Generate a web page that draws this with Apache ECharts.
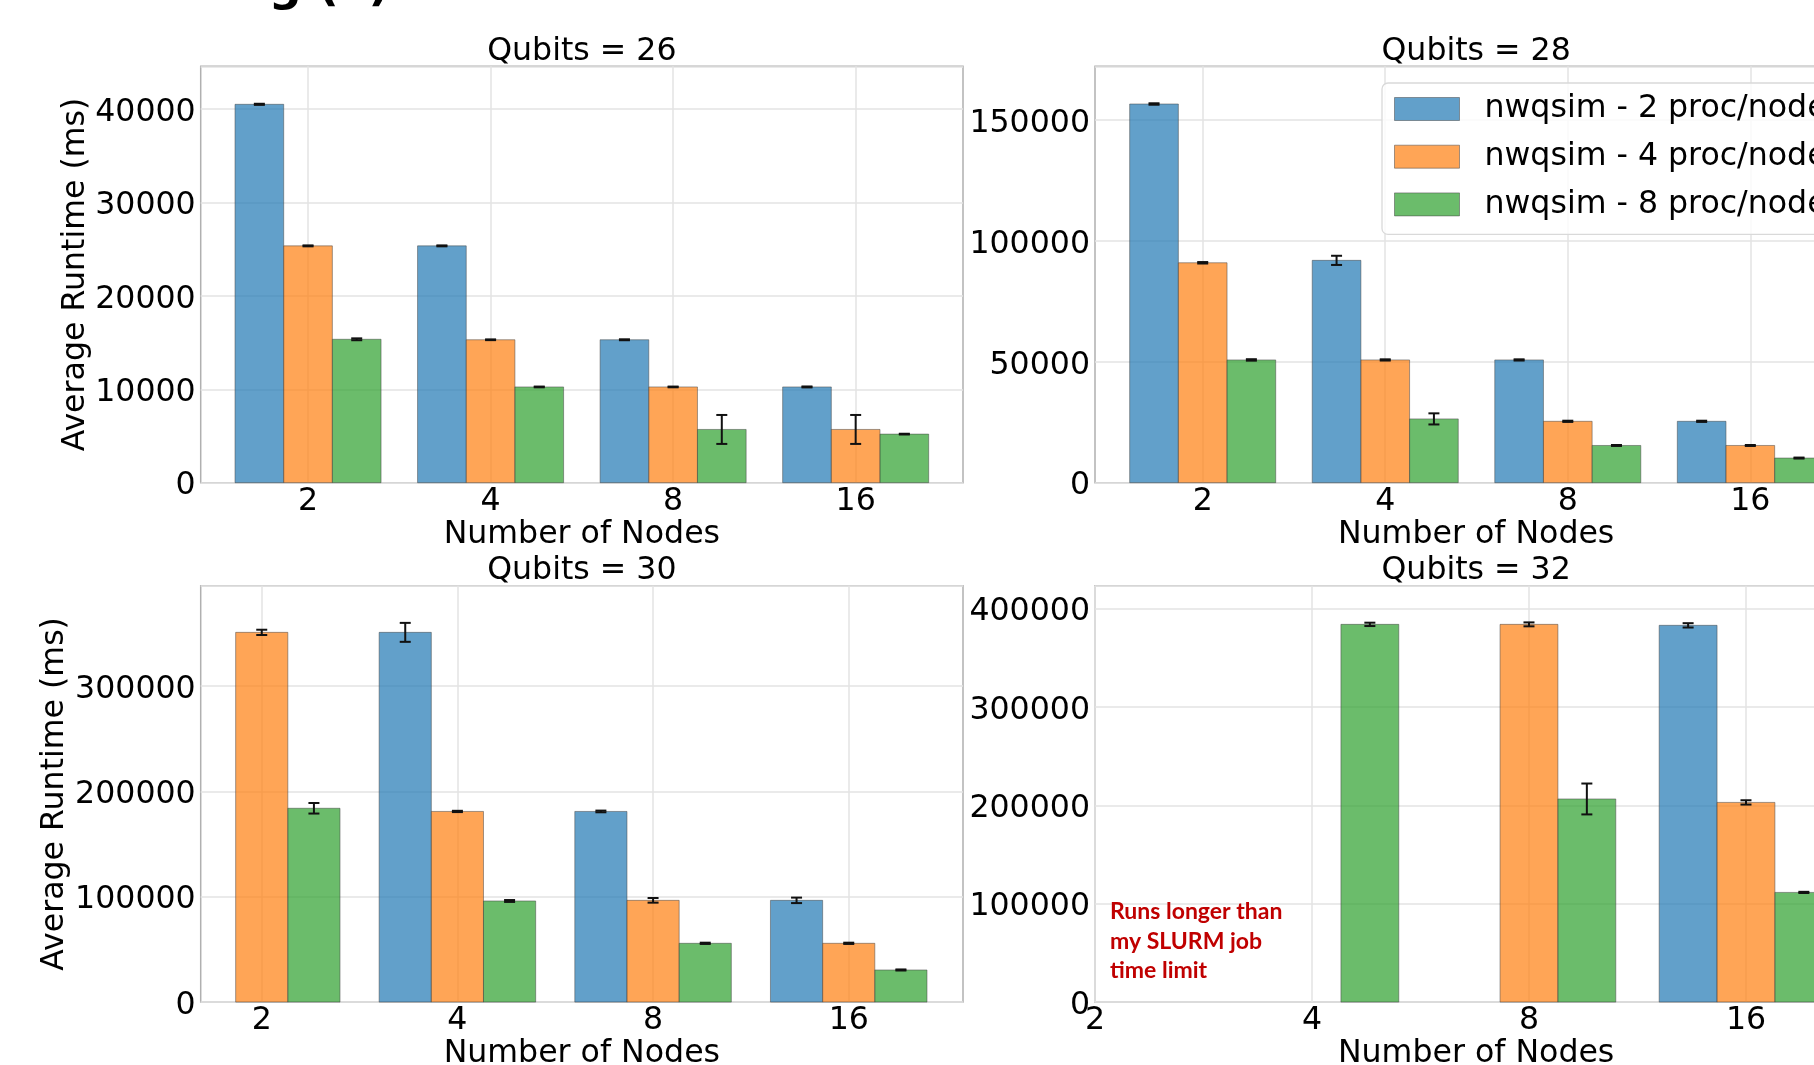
<!DOCTYPE html>
<html><head><meta charset="utf-8">
<script src="https://cdn.jsdelivr.net/npm/echarts@6/dist/echarts.min.js"></script>
<style>html,body{margin:0;padding:0;overflow:hidden;background:#fff;}#c{width:1860px;height:1065px;}</style>
</head><body><div id="c"></div>
<script>
// ---------- data ----------
const nodeLabels = ['2', '4', '8', '16'];
const seriesNames = ['nwqsim - 2 proc/node', 'nwqsim - 4 proc/node', 'nwqsim - 8 proc/node'];
const panelTitles = ['Qubits = 26', 'Qubits = 28', 'Qubits = 30', 'Qubits = 32'];

// Qubits = 26
const q26_p2 = [40500, 25350, 15300, 10250];
const q26_p2_err = [60, 50, 50, 50];
const q26_p4 = [25350, 15300, 10250, 5700];
const q26_p4_err = [50, 40, 40, 1550];
const q26_p8 = [15350, 10250, 5700, 5200];
const q26_p8_err = [100, 40, 1550, 40];
const q26_yticks = [0, 10000, 20000, 30000, 40000];

// Qubits = 28
const q28_p2 = [156700, 92000, 50800, 25400];
const q28_p2_err = [300, 1900, 250, 250];
const q28_p4 = [91000, 50800, 25400, 15400];
const q28_p4_err = [300, 250, 250, 200];
const q28_p8 = [50800, 26400, 15400, 10200];
const q28_p8_err = [300, 2300, 200, 200];
const q28_yticks = [0, 50000, 100000, 150000];

// Qubits = 30
const q30_p2 = [null, 351000, 181000, 96600];
const q30_p2_err = [null, 9000, 800, 2600];
const q30_p4 = [351000, 181000, 96600, 55800];
const q30_p4_err = [2500, 600, 2200, 600];
const q30_p8 = [184000, 96000, 55800, 30500];
const q30_p8_err = [5000, 900, 600, 500];
const q30_yticks = [0, 100000, 200000, 300000];

// Qubits = 32
const q32_p2 = [null, null, null, 383000];
const q32_p2_err = [null, null, null, 2200];
const q32_p4 = [null, null, 384000, 203000];
const q32_p4_err = [null, null, 2000, 2200];
const q32_p8 = [null, 384000, 206500, 111500];
const q32_p8_err = [null, 1700, 15700, 600];
const q32_yticks = [0, 100000, 200000, 300000, 400000];

const noteText = ['Runs longer than', 'my SLURM job', 'time limit'];

// ---------- layout / style ----------
const FONT = 'DejaVu Sans';
const FS = 31.6;
const GW = 762.3, GH = 416.4;
const BW = 0.8 / 3;
const offsets = [-BW, 0, BW];
const fills = ['rgba(31,119,180,0.7)', 'rgba(255,127,14,0.7)', 'rgba(44,160,44,0.7)'];
const edge = 'rgba(70,70,70,0.5)';

const panels = [
  {left: 200.7, top: 66.3, xMin: -0.588, xMax: 3.588, yMax: 44570, yticks: q26_yticks,
   vals: [q26_p2, q26_p4, q26_p8], errs: [q26_p2_err, q26_p4_err, q26_p8_err], yName: true, yGap: 106},
  {left: 1095, top: 66.3, xMin: -0.59, xMax: 3.586, yMax: 172300, yticks: q28_yticks,
   vals: [q28_p2, q28_p4, q28_p8], errs: [q28_p2_err, q28_p4_err, q28_p8_err], yName: false},
  {left: 200.7, top: 585.7, xMin: -0.312, xMax: 3.584, yMax: 395300, yticks: q30_yticks,
   vals: [q30_p2, q30_p4, q30_p8], errs: [q30_p2_err, q30_p4_err, q30_p8_err], yName: true, yGap: 128},
  {left: 1095, top: 585.7, xMin: 0, xMax: 3.513, yMax: 423300, yticks: q32_yticks,
   vals: [q32_p2, q32_p4, q32_p8], errs: [q32_p2_err, q32_p4_err, q32_p8_err], yName: false}
];

function render(offset, fill) {
  return function (params, api) {
    const g = api.value(0), v = api.value(1), e = api.value(2);
    const tl = api.coord([g + offset - BW / 2, v]);
    const br = api.coord([g + offset + BW / 2, 0]);
    const children = [{
      type: 'rect',
      shape: {x: tl[0], y: tl[1], width: br[0] - tl[0], height: br[1] - tl[1]},
      style: {fill: fill, stroke: edge, lineWidth: 1}
    }];
    if (e > 0) {
      const cx = api.coord([g + offset, v])[0];
      const yHi = api.coord([g + offset, v + e])[1];
      const yLo = api.coord([g + offset, v - e])[1];
      const s = {stroke: '#111', lineWidth: 2};
      children.push({type: 'line', shape: {x1: cx, y1: yHi, x2: cx, y2: yLo}, style: s});
      children.push({type: 'line', shape: {x1: cx - 5.5, y1: yHi, x2: cx + 5.5, y2: yHi}, style: s});
      children.push({type: 'line', shape: {x1: cx - 5.5, y1: yLo, x2: cx + 5.5, y2: yLo}, style: s});
    }
    return {type: 'group', children: children};
  };
}

const grids = [], xAxes = [], yAxes = [], series = [], titles = [];
panels.forEach((p, pi) => {
  grids.push({left: p.left, top: p.top, width: GW, height: GH, show: true,
    borderColor: '#b0b0b0', borderWidth: 1.5, backgroundColor: 'transparent',
    containLabel: false, outerBoundsMode: 'none'});
  xAxes.push({
    type: 'value', gridIndex: pi, min: p.xMin, max: p.xMax,
    name: 'Number of Nodes', nameLocation: 'middle', nameGap: 33,
    nameTextStyle: {fontFamily: FONT, fontSize: FS, color: '#000'},
    axisLine: {show: false},
    axisTick: {show: false, customValues: [0, 1, 2, 3]},
    axisLabel: {customValues: [0, 1, 2, 3], margin: 3, fontFamily: FONT, fontSize: FS, color: '#000',
      formatter: v => nodeLabels[Math.round(v)]},
    splitLine: {show: true, lineStyle: {color: '#e3e3e3', width: 1.5}}
  });
  yAxes.push({
    type: 'value', gridIndex: pi, min: p.yticks[0], max: p.yMax,
    interval: p.yticks[1] - p.yticks[0],
    name: p.yName ? 'Average Runtime (ms)' : '', nameLocation: 'middle', nameGap: p.yGap || 0,
    nameTextStyle: {fontFamily: FONT, fontSize: FS, color: '#000'},
    axisLine: {show: false}, axisTick: {show: false},
    axisLabel: {margin: 5, fontFamily: FONT, fontSize: FS, color: '#000', showMaxLabel: false,
      verticalAlign: 'top', lineHeight: 7, formatter: v => String(v)},
    splitLine: {show: true, lineStyle: {color: '#e3e3e3', width: 1.5}}
  });
  titles.push({text: panelTitles[pi], left: p.left + GW / 2, top: p.top - 30.8, textAlign: 'center', padding: 0,
    textStyle: {fontFamily: FONT, fontSize: FS, fontWeight: 'normal', color: '#000'}});
  for (let s = 0; s < 3; s++) {
    const data = [];
    p.vals[s].forEach((v, i) => { if (v != null) data.push([i, v, p.errs[s][i] || 0]); });
    series.push({
      type: 'custom', name: seriesNames[s], xAxisIndex: pi, yAxisIndex: pi,
      itemStyle: {color: fills[s], borderColor: edge, borderWidth: 1},
      renderItem: render(offsets[s], fills[s]),
      encode: {x: 0, y: 1},
      data: data, z: 2 + s
    });
  }
});

const chart = echarts.init(document.getElementById('c'), null, {renderer: 'canvas'});
chart.setOption({
  animation: false,
  backgroundColor: '#fff',
  title: titles,
  grid: grids,
  xAxis: xAxes,
  yAxis: yAxes,
  series: series,
  legend: {
    orient: 'vertical', left: 1382, top: 83,
    data: seriesNames.map((n, i) => ({name: n, itemStyle: {color: fills[i], borderColor: edge, borderWidth: 1}})),
    icon: 'rect', itemWidth: 65, itemHeight: 23, itemGap: 15.7,
    textStyle: {fontFamily: FONT, fontSize: FS, color: '#000', lineHeight: 31, padding: [0, 0, 0, 20]},
    backgroundColor: 'rgba(255,255,255,0.8)', borderColor: '#d9d9d9', borderWidth: 1.3, borderRadius: 6,
    padding: [10, 30, 14, 12], z: 10
  },
  graphic: [
    {type: 'text', x: 236, y: -12, z: 20,
      style: {text: 'ng (x)', font: 'bold 46px "DejaVu Sans"', fill: '#000', verticalAlign: 'middle'}},
    {type: 'text', x: 1110, y: 897, z: 20,
      style: {text: noteText.join('\n'), font: 'bold 23px Lato', lineHeight: 29.5, fill: '#c00000', verticalAlign: 'top'}}
  ]
});
</script></body></html>
